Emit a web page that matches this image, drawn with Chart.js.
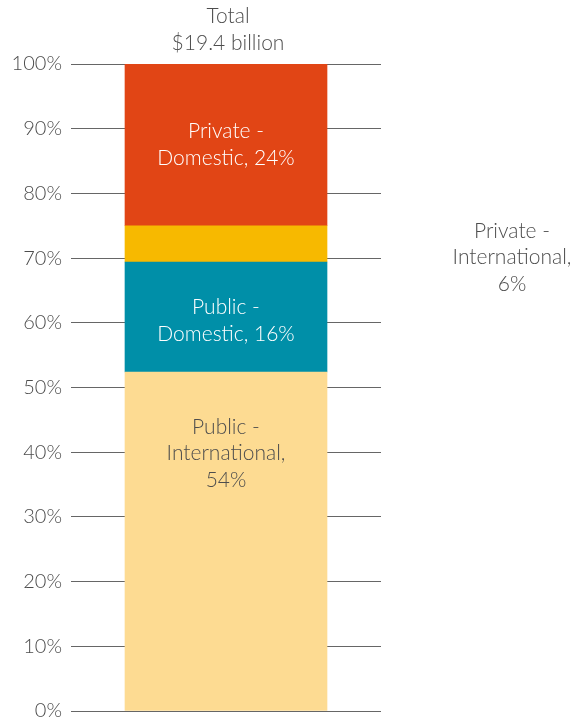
<!DOCTYPE html>
<html>
<head>
<meta charset="utf-8">
<script src="https://cdn.jsdelivr.net/npm/chart.js@4"></script>
<style>
  html, body { margin: 0; padding: 0; background: #fff; overflow: hidden; }
  #wrap { width: 582px; height: 732px; position: relative; }
</style>
</head>
<body>
<div id="wrap"><canvas id="chart"></canvas></div>
<script>
const categories = ['Total'];
const seriesNames = ['Public - International', 'Public - Domestic', 'Private - International', 'Private - Domestic'];
const seriesValues = [52.4, 17.0, 5.6, 25.0];
const seriesColors = ['#FDDB92', '#008FA8', '#F7B900', '#E14515'];
const seriesLabels = [
  ['Public -', 'International,', '54%'],
  ['Public -', 'Domestic, 16%'],
  ['Private -', 'International,', '6%'],
  ['Private -', 'Domestic, 24%']
];
const labelColors = ['#4d4d4d', '#ffffff', '#4d4d4d', '#ffffff'];
const titleLines = ['Total', '$19.4 billion'];

const FONT = 'Lato, "Open Sans", sans-serif';

const labelPlugin = {
  id: 'segLabels',
  afterDatasetsDraw(chart) {
    const ctx = chart.ctx;
    ctx.save();
    ctx.font = '300 21px ' + FONT;
    ctx.textAlign = 'center';
    ctx.textBaseline = 'middle';
    const lh = 26.5;
    const shift = [-88, 4, 0, 0];
    let barX = 225;
    chart.data.datasets.forEach((ds, i) => {
      const bar = chart.getDatasetMeta(i).data[0];
      barX = bar.x;
      const lines = seriesLabels[i];
      const midY = (bar.y + bar.base) / 2 + shift[i];
      let x = bar.x;
      let y0 = midY - (lines.length - 1) * lh / 2;
      if (i === 2) {
        // small segment: label sits off to the right
        x = 512;
        y0 = 231;
      }
      ctx.fillStyle = labelColors[i];
      lines.forEach((t, k) => ctx.fillText(t, x, y0 + k * lh));
    });
    ctx.fillStyle = '#4d4d4d';
    ctx.fillText(titleLines[0], barX + 2, 16);
    ctx.fillText(titleLines[1], barX + 2, 43);
    ctx.restore();
  }
};

new Chart(document.getElementById('chart'), {
  type: 'bar',
  data: {
    labels: categories,
    datasets: seriesNames.map((name, i) => ({
      label: name,
      data: [seriesValues[i]],
      backgroundColor: seriesColors[i],
      borderWidth: 0,
      barThickness: 202
    }))
  },
  options: {
    responsive: true,
    maintainAspectRatio: false,
    animation: false,
    layout: { padding: { top: 64, right: 201, bottom: 0, left: 0 } },
    plugins: {
      legend: { display: false },
      tooltip: { enabled: false }
    },
    scales: {
      x: {
        stacked: true,
        display: false
      },
      y: {
        stacked: true,
        min: 0,
        max: 100,
        afterFit(scale) { scale.width = 71; },
        ticks: {
          stepSize: 10,
          color: '#4d4d4d',
          font: { size: 20, family: FONT, weight: '300' },
          padding: 9,
          callback: v => v + '%'
        },
        grid: {
          color: '#666666',
          lineWidth: 1,
          drawTicks: false
        },
        border: { display: false }
      }
    }
  },
  plugins: [labelPlugin]
});
</script>
</body>
</html>
